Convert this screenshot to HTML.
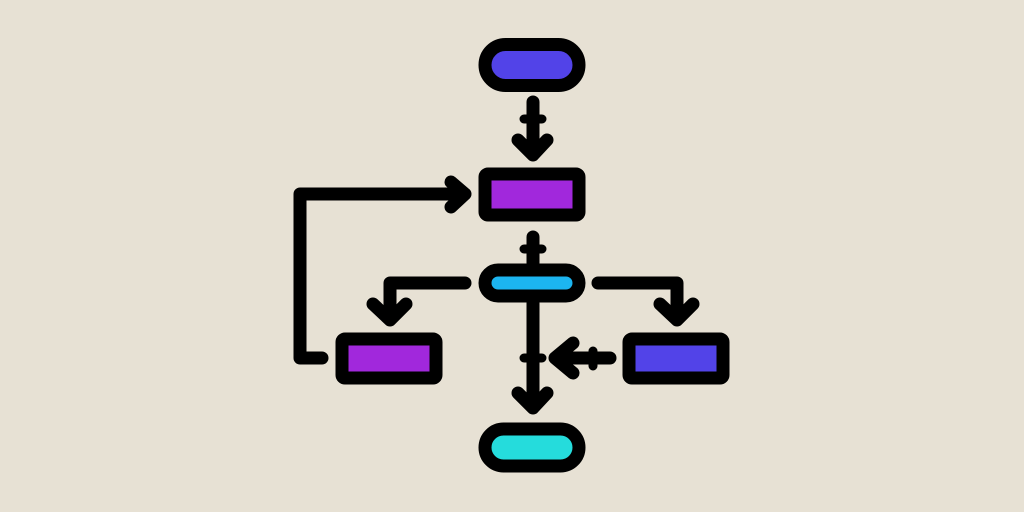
<!DOCTYPE html>
<html><head><style>html,body{margin:0;padding:0;background:#e7e1d4;width:1024px;height:512px;overflow:hidden}</style></head>
<body>
<svg width="1024" height="512" viewBox="0 0 1024 512" xmlns="http://www.w3.org/2000/svg">
<rect width="1024" height="512" fill="#e7e1d4"/>
<g stroke="#000" stroke-width="13" stroke-linecap="round" stroke-linejoin="round" fill="none">
<rect x="485" y="44.5" width="94" height="41" rx="20.5" fill="#5243e8"/>
<rect x="485" y="174" width="94" height="41" rx="3" fill="#a128dc"/>
<rect x="485" y="270" width="94" height="26" rx="13" fill="#1cb5f0"/>
<rect x="342" y="339" width="94" height="39" rx="3" fill="#a128dc"/>
<rect x="629" y="339" width="94" height="39" rx="3" fill="#5243e8"/>
<rect x="485" y="429" width="94" height="37" rx="18.5" fill="#25dcdc"/>
<path d="M533 102V155M518 140L533 155L547 140"/>
<path d="M322 358H300V194H465M451 182L465 194L451 207"/>
<path d="M533 237V263"/>
<path d="M465 283H390V320M373 304L390 320L406 304"/>
<path d="M598 283H677V320M660 304L677 320L693 304"/>
<path d="M533 303V408M518 393L533 408L547 393"/>
<path d="M610 358H555M573 343L555 358L573 373"/>
</g>
<g stroke="#000" stroke-width="9" stroke-linecap="round" fill="none">
<path d="M524 119H542M524 249H542M524 358H542M593 351V366"/>
</g>
</svg>
</body></html>
